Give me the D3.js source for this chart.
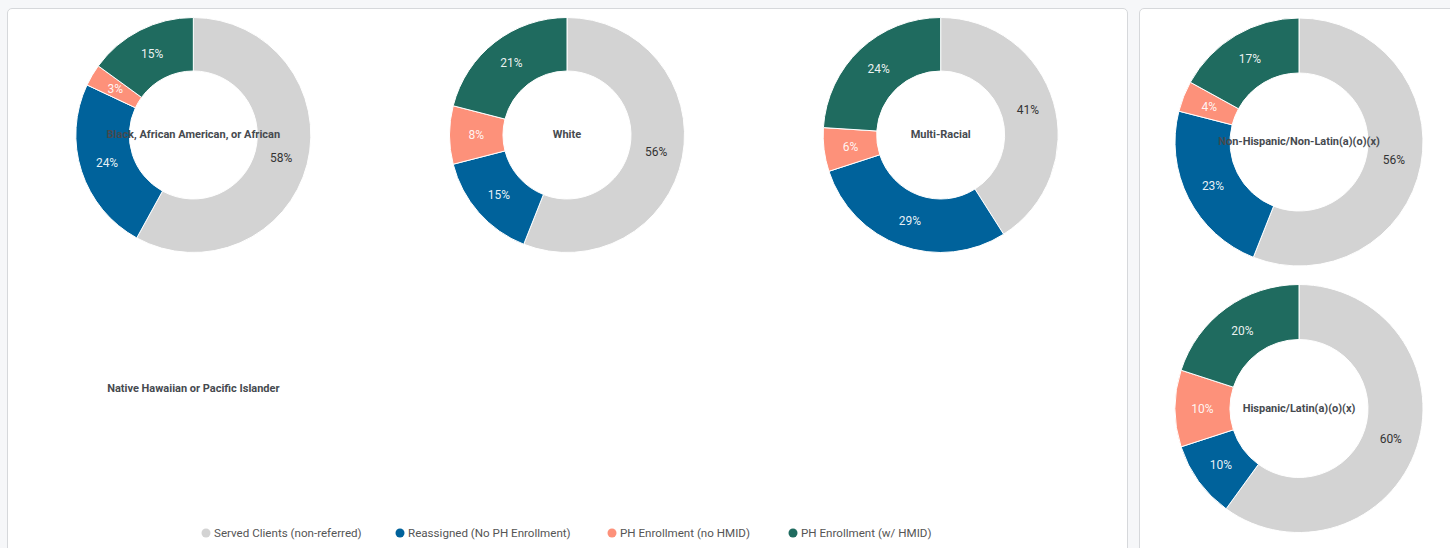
<!DOCTYPE html>
<html>
<head>
<meta charset="utf-8">
<script src="https://cdn.jsdelivr.net/npm/d3@7"></script>
<style>
  body { margin: 0; background: #f6f7f9; font-family: Roboto, "Noto Sans", sans-serif; overflow: hidden; }
  .panel { position: absolute; background: #fff; border: 1px solid #d6d8db; border-radius: 5px; box-sizing: border-box; }
</style>
</head>
<body>
<div class="panel" id="race-panel" style="left:7px; top:8px; width:1121px; height:560px;"></div>
<div class="panel" id="eth-panel" style="left:1139px; top:8px; width:330px; height:560px;"></div>
<script>
  const seriesNames = ["Served Clients (non-referred)", "Reassigned (No PH Enrollment)", "PH Enrollment (no HMID)", "PH Enrollment (w/ HMID)"];
  const seriesColors = ["#d3d3d3", "#00629b", "#fd917a", "#1f6b5f"];
  const labelColors = ["#333", "#fff", "#fff", "#fff"];

  const raceGroups = ["Black, African American, or African", "White", "Multi-Racial", "Native Hawaiian or Pacific Islander"];
  const raceValues = [
    [58, 24, 3, 15],
    [56, 15, 8, 21],
    [41, 29, 6, 24],
    []
  ];

  const ethGroups = ["Non-Hispanic/Non-Latin(a)(o)(x)", "Hispanic/Latin(a)(o)(x)"];
  const ethValues = [
    [56, 23, 4, 17],
    [60, 10, 10, 20]
  ];

  const pie = d3.pie().sort(null).value((d) => d);
  const fmt = d3.format(".0%");

  function drawDonut(g, name, values, outer, inner) {
    const arc = d3.arc().innerRadius(inner).outerRadius(outer);
    const labelArc = d3.arc().innerRadius((inner + outer) / 2).outerRadius((inner + outer) / 2);
    const total = d3.sum(values);
    const arcs = pie(values);

    g.selectAll("path")
      .data(arcs)
      .join("path")
      .attr("d", arc)
      .attr("fill", (d, i) => seriesColors[i])
      .attr("stroke", "#fff")
      .attr("stroke-width", 1);

    g.selectAll("text.pct")
      .data(arcs)
      .join("text")
      .attr("class", "pct")
      .attr("transform", (d) => `translate(${labelArc.centroid(d)})`)
      .attr("text-anchor", "middle")
      .attr("dy", "0.35em")
      .attr("font-size", 12)
      .attr("fill", (d, i) => labelColors[i])
      .attr("fill-opacity", (d, i) => (i === 0 ? 1 : 0.92))
      .text((d) => fmt(d.value / total));

    // group name in the hole
    g.append("text")
      .attr("text-anchor", "middle")
      .attr("dy", "0.3em")
      .attr("font-size", 11)
      .attr("font-weight", "bold")
      .attr("fill", "#464a4f")
      .text(name);
  }

  // left panel: race grid, 3 columns
  const left = d3.select("#race-panel").append("svg")
    .attr("width", 1121).attr("height", 560)
    .style("position", "absolute").style("left", "-1px").style("top", "-1px");

  const colW = 1121 / 3;
  const rowH = 254;
  raceGroups.forEach((name, i) => {
    const cx = colW * (i % 3) + colW / 2 - 0.5;
    const cy = rowH * Math.floor(i / 3) + 127;
    const g = left.append("g").attr("transform", `translate(${cx},${cy})`);
    drawDonut(g, name, raceValues[i], 117.5, 64);
  });

  // legend
  const legendX = [199, 393, 605, 786];
  const legend = left.selectAll("g.legend")
    .data(seriesNames)
    .join("g")
    .attr("class", "legend")
    .attr("transform", (d, i) => `translate(${legendX[i]},525)`);
  legend.append("circle").attr("r", 4.5).attr("fill", (d, i) => seriesColors[i]);
  legend.append("text")
    .attr("x", 8)
    .attr("dy", "0.35em")
    .attr("font-size", 11.6)
    .attr("fill", "#555")
    .text((d) => d);

  // right panel: ethnicity
  const right = d3.select("#eth-panel").append("svg")
    .attr("width", 330).attr("height", 560)
    .style("position", "absolute").style("left", "-1px").style("top", "-1px");

  ethGroups.forEach((name, i) => {
    const g = right.append("g").attr("transform", `translate(160,${134 + 266.5 * i})`);
    drawDonut(g, name, ethValues[i], 124, 69);
  });
</script>
</body>
</html>
